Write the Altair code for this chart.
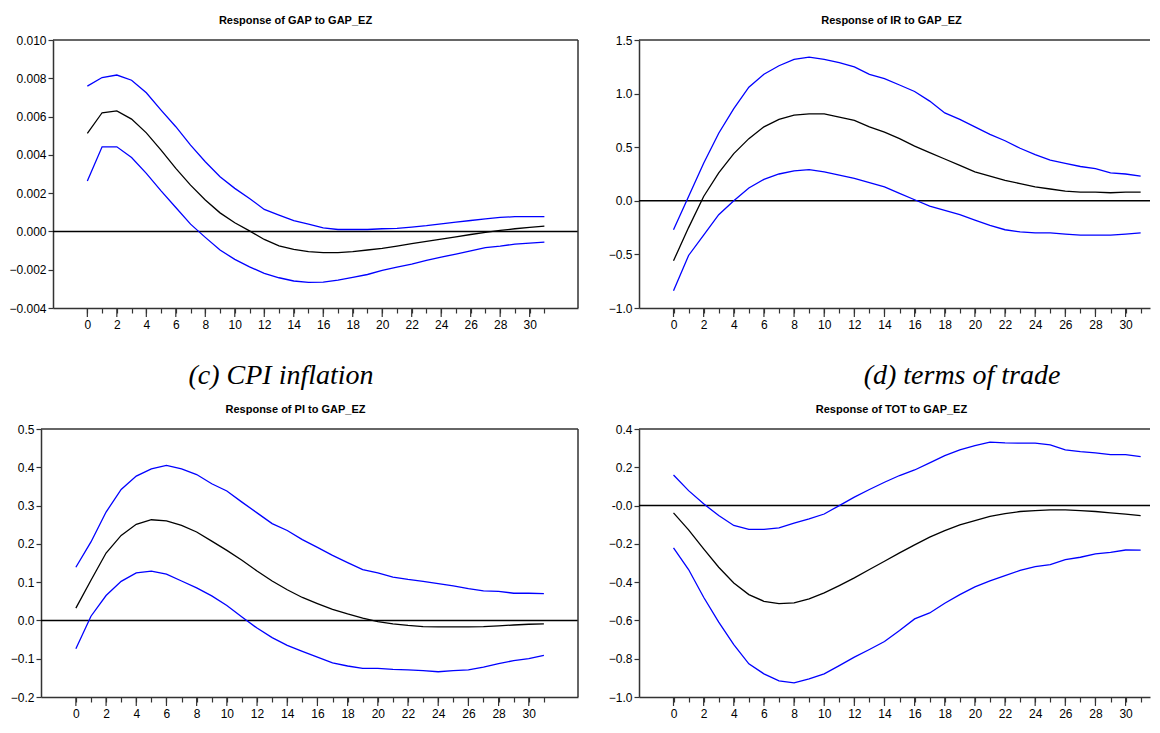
import altair as alt
import pandas as pd

periods = list(range(32))

titles = ["Response of GAP to GAP_EZ", "Response of IR to GAP_EZ",
          "Response of PI to GAP_EZ", "Response of TOT to GAP_EZ"]
captions = ["(c) CPI inflation", "(d) terms of trade"]

gap_hi = [0.00759, 0.00804, 0.00817, 0.0079, 0.00724, 0.00634, 0.00547, 0.00451, 0.00364, 0.00286,
          0.00225, 0.00172, 0.00115, 0.00085, 0.00056, 0.00038, 0.00019, 0.0001, 0.0001, 0.0001,
          0.00014, 0.00016, 0.00023, 0.0003, 0.0004, 0.00049, 0.00057, 0.00066, 0.00073, 0.00077,
          0.00077, 0.00077]
gap_mid = [0.00512, 0.0062, 0.0063, 0.00587, 0.00515, 0.00425, 0.00329, 0.00242, 0.00164, 0.00097,
           0.00045, 0.00003, -0.00042, -0.00075, -0.00094, -0.00106, -0.00111, -0.00111, -0.00106, -0.00097,
           -0.00089, -0.00077, -0.00064, -0.00052, -0.0004, -0.00028, -0.00016, -0.00005, 0.00005, 0.00014,
           0.00021, 0.00028]
gap_lo = [0.00263, 0.00442, 0.00442, 0.00386, 0.00303, 0.00212, 0.00125, 0.00038, -0.00031, -0.00097,
          -0.00146, -0.00185, -0.00219, -0.00242, -0.00259, -0.00266, -0.00265, -0.00254, -0.0024, -0.00225,
          -0.00204, -0.00186, -0.00171, -0.00151, -0.00134, -0.00118, -0.00101, -0.00085, -0.00077, -0.00066,
          -0.00061, -0.00056]

ir_hi = [-0.27, 0.04, 0.35, 0.63, 0.86, 1.06, 1.18, 1.26, 1.32, 1.34,
         1.32, 1.29, 1.25, 1.18, 1.14, 1.08, 1.02, 0.93, 0.82, 0.76,
         0.69, 0.62, 0.56, 0.49, 0.43, 0.38, 0.35, 0.32, 0.30, 0.26,
         0.25, 0.23]
ir_mid = [-0.56, -0.25, 0.04, 0.26, 0.44, 0.58, 0.69, 0.76, 0.80, 0.81,
          0.81, 0.78, 0.75, 0.69, 0.64, 0.58, 0.51, 0.45, 0.39, 0.33,
          0.27, 0.23, 0.19, 0.16, 0.13, 0.11, 0.09, 0.08, 0.08, 0.075,
          0.08, 0.08]
ir_lo = [-0.84, -0.51, -0.32, -0.13, 0.0, 0.12, 0.20, 0.25, 0.28, 0.29,
         0.27, 0.24, 0.21, 0.17, 0.13, 0.07, 0.01, -0.05, -0.09, -0.13,
         -0.18, -0.23, -0.27, -0.29, -0.30, -0.30, -0.31, -0.32, -0.32, -0.32,
         -0.31, -0.30]

pi_hi = [0.139, 0.205, 0.283, 0.342, 0.377, 0.396, 0.405, 0.396, 0.381, 0.357,
         0.338, 0.309, 0.281, 0.253, 0.235, 0.211, 0.191, 0.170, 0.151, 0.133,
         0.124, 0.113, 0.107, 0.102, 0.096, 0.090, 0.083, 0.077, 0.076, 0.071,
         0.071, 0.070]
pi_mid = [0.032, 0.105, 0.176, 0.222, 0.251, 0.263, 0.260, 0.248, 0.231, 0.207,
          0.183, 0.157, 0.129, 0.103, 0.080, 0.060, 0.044, 0.029, 0.017, 0.006,
          -0.003, -0.009, -0.013, -0.016, -0.017, -0.017, -0.017, -0.016, -0.014, -0.012,
          -0.010, -0.009]
pi_lo = [-0.074, 0.011, 0.065, 0.102, 0.124, 0.129, 0.121, 0.103, 0.085, 0.064,
         0.039, 0.009, -0.020, -0.045, -0.065, -0.081, -0.096, -0.111, -0.119, -0.125,
         -0.125, -0.128, -0.129, -0.131, -0.134, -0.131, -0.129, -0.122, -0.113, -0.105,
         -0.100, -0.091]

tot_hi = [0.160, 0.078, 0.009, -0.052, -0.104, -0.124, -0.124, -0.117, -0.092, -0.070,
          -0.044, 0.0, 0.044, 0.084, 0.122, 0.157, 0.186, 0.223, 0.261, 0.291,
          0.313, 0.331, 0.327, 0.326, 0.326, 0.317, 0.291, 0.282, 0.275, 0.266,
          0.266, 0.256]
tot_mid = [-0.038, -0.127, -0.226, -0.322, -0.404, -0.465, -0.500, -0.512, -0.508, -0.487,
           -0.456, -0.418, -0.378, -0.334, -0.291, -0.247, -0.205, -0.165, -0.131, -0.101,
           -0.078, -0.057, -0.042, -0.031, -0.026, -0.023, -0.023, -0.026, -0.031, -0.038,
           -0.045, -0.052]
tot_lo = [-0.221, -0.334, -0.479, -0.609, -0.726, -0.827, -0.879, -0.916, -0.926, -0.905,
          -0.879, -0.836, -0.792, -0.752, -0.710, -0.653, -0.592, -0.561, -0.510, -0.465,
          -0.425, -0.393, -0.366, -0.339, -0.319, -0.308, -0.282, -0.270, -0.252, -0.244,
          -0.232, -0.233]

x_ticks = list(range(0, 32))
x_major = list(range(0, 31, 2))

SANS = "Liberation Sans, Arial, sans-serif"
SERIF = "Liberation Serif, Times New Roman, serif"
FRAME = "#333333"
H = 268


def panel(title, hi, mid, lo, ydom, yvals, yexpr, width, xdom, right_border, tdx):
    df = pd.DataFrame({
        "t": periods * 3,
        "v": hi + mid + lo,
        "s": ["hi"] * 32 + ["mid"] * 32 + ["lo"] * 32,
    })
    xscale = alt.Scale(domain=xdom, nice=False, zero=False)
    yscale = alt.Scale(domain=ydom, nice=False, zero=False)
    xaxis = alt.Axis(values=x_ticks, labelExpr="datum.value % 2 == 0 ? datum.label : ''",
                     format="d", tickSize=5, labelPadding=6, labelFontSize=12,
                     labelFont=SANS, labelColor="#000", domainColor=FRAME, domainWidth=1.5,
                     tickColor=FRAME, tickWidth=1.2, grid=False, title=None, labelFlush=False,
                     labelOverlap=False)
    yaxis = alt.Axis(values=yvals, labelExpr=yexpr, tickSize=5, labelPadding=2, labelFontSize=12,
                     labelFont=SANS, labelColor="#000", domainColor=FRAME, domainWidth=1.5,
                     tickColor=FRAME, tickWidth=1.2, grid=False, title=None, labelFlush=False,
                     labelOverlap=False, labelBound=False)
    X = lambda f: alt.X(f, scale=xscale, axis=xaxis)
    Y = lambda f: alt.Y(f, scale=yscale, axis=yaxis)

    lines = alt.Chart(df).mark_line(strokeWidth=1.3).encode(
        x=X("t:Q"), y=Y("v:Q"),
        color=alt.Color("s:N", scale=alt.Scale(domain=["hi", "mid", "lo"],
                                               range=["#0000ff", "#000000", "#0000ff"]), legend=None),
        detail="s:N",
    )
    zero = alt.Chart(pd.DataFrame({"t": [0], "v": [0]})).mark_rule(color="#000", strokeWidth=1.5).encode(
        y=Y("v:Q"))
    major = alt.Chart(pd.DataFrame({"t": x_major})).mark_rule(color=FRAME, strokeWidth=1.2).encode(
        x=X("t:Q"), y=alt.value(H), y2=alt.value(H + 9))
    top = alt.Chart(pd.DataFrame({"a": [0]})).mark_rule(color=FRAME, strokeWidth=1.5).encode(
        y=alt.value(0), x=alt.value(0), x2=alt.value(width))
    layers = [zero, lines, major, top]
    if right_border:
        rb = alt.Chart(pd.DataFrame({"a": [0]})).mark_rule(color=FRAME, strokeWidth=1.5).encode(
            x=alt.value(width), y=alt.value(0), y2=alt.value(H))
        layers.append(rb)
    return alt.layer(*layers).properties(
        width=width, height=H,
        title=alt.TitleParams(title, font=SANS, fontSize=11, fontWeight="bold", color="#000",
                              anchor="middle", dx=tdx, offset=8),
    )


fmt3 = "format(datum.value, '.3f')"
fmt1 = "format(datum.value, '.1f')"

p1 = panel(titles[0], gap_hi, gap_mid, gap_lo, [-0.004, 0.010],
           [-0.004, -0.002, 0.0, 0.002, 0.004, 0.006, 0.008, 0.010],
           fmt3, 525, [-2.33, 33.28], True, -20)
p2 = panel(titles[1], ir_hi, ir_mid, ir_lo, [-1.0, 1.5],
           [-1.0, -0.5, 0.0, 0.5, 1.0, 1.5],
           fmt1, 511, [-2.29, 31.62], False, -3)
p3 = panel(titles[2], pi_hi, pi_mid, pi_lo, [-0.2, 0.5],
           [-0.2, -0.1, 0.0, 0.1, 0.2, 0.3, 0.4, 0.5],
           fmt1, 537, [-2.31, 33.26], True, -14)
p4 = panel(titles[3], tot_hi, tot_mid, tot_lo, [-1.0, 0.4],
           [-1.0, -0.8, -0.6, -0.4, -0.2, 0.0, 0.2, 0.4],
           "abs(datum.value) < 1e-9 ? '-0.0' : " + fmt1, 511, [-2.29, 31.62], False, -3)

spacer = alt.Chart(pd.DataFrame({"a": [0]})).mark_point(opacity=0).encode(
    x=alt.value(0), y=alt.value(0)).properties(width=12, height=H)

cap_df = pd.DataFrame({"c": captions, "k": ["c", "d"]})


def caption(key, xpos):
    return alt.Chart(cap_df).transform_filter(f"datum.k == '{key}'").mark_text(
        font=SERIF, fontStyle="italic", fontSize=28, align="center", baseline="alphabetic", color="#000"
    ).encode(text="c:N", x=alt.value(xpos), y=alt.value(54))


cap = alt.layer(caption("c", 240), caption("d", 921)).properties(width=1080, height=74)

row1 = alt.hconcat(spacer, alt.hconcat(p1, p2, spacing=61, bounds="flush"), spacing=0, bounds="flush")
row2 = alt.hconcat(p3, p4, spacing=61, bounds="flush")

chart = alt.vconcat(row1, cap, row2, spacing=0).properties(
    padding={"left": 0, "top": 7, "right": 0, "bottom": 0},
    background="white",
).configure_view(stroke=None)

chart.save("out.html", embed_options={"renderer": "svg", "actions": False})
